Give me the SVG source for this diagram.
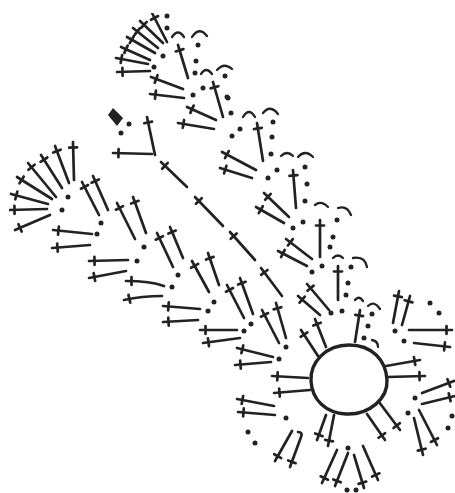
<svg xmlns="http://www.w3.org/2000/svg" width="455" height="493" viewBox="0 0 455 493">
<style>
.s{fill:none;stroke:#222;stroke-width:2.7;stroke-linecap:round;marker-start:url(#x)}
.a{fill:none;stroke:#222;stroke-width:2.3;stroke-linecap:round}
.d circle{fill:#222;r:2.5px}
</style>
<defs>
<marker id="x" markerUnits="userSpaceOnUse" orient="auto" refX="0" refY="5" markerWidth="10" markerHeight="10" overflow="visible"><path d="M5.5 1V9" stroke="#222" stroke-width="2.7" stroke-linecap="round" fill="none"/></marker>
<filter id="soft" x="0" y="0" width="100%" height="100%"><feGaussianBlur stdDeviation="0.4"/></filter>
</defs>
<rect width="455" height="493" fill="#fff"/>
<g filter="url(#soft)">
<g id="stitches">
<path class="s" d="M117 72L150 71"/><path class="s" d="M116 58L148 64"/><path class="s" d="M121 47L150 60"/><path class="s" d="M127 37L155 53"/><path class="s" d="M133 28L158 48"/><path class="s" d="M140 21L163 43"/><path class="s" d="M152 13L167 42"/>
<path class="s" d="M178 45L188 78"/><path class="s" d="M151 77L183 89"/><path class="s" d="M150 94L184 98"/><path class="s" d="M213 82L223 117"/><path class="s" d="M187 107L216 120"/><path class="s" d="M178 123L214 129"/>
<path class="s" d="M147 117L155 155"/><path class="s" d="M113 153L152 154"/><path class="s" d="M161 162L187 187"/><path class="s" d="M195 197L223 226"/><path class="s" d="M230 232L255 260"/><path class="s" d="M261 268L282 296"/>
<path class="s" d="M9 210L47 209"/><path class="s" d="M11 194L48 204"/><path class="s" d="M17 177L52 199"/><path class="s" d="M28 163L56 197"/><path class="s" d="M41 155L62 188"/><path class="s" d="M55 146L69 183"/><path class="s" d="M73 142L74 180"/><path class="s" d="M15 230L50 215"/>
<path class="s" d="M82 182L99 215"/><path class="s" d="M93 176L108 210"/><path class="s" d="M117 203L135 239"/><path class="s" d="M133 197L146 233"/><path class="s" d="M53 230L92 234"/><path class="s" d="M52 248L90 245"/><path class="s" d="M157 233L173 267"/><path class="s" d="M170 227L183 258"/>
<path class="s" d="M89 261L128 260"/><path class="s" d="M89 278L126 271"/><path class="s" d="M126 281Q150 281 164 286"/><path class="s" d="M124 300Q142 296 162 296"/>
<path class="s" d="M192 261L209 292"/><path class="s" d="M208 253L219 285"/><path class="s" d="M163 306L200 309"/><path class="s" d="M163 322L198 320"/><path class="s" d="M200 330L237 330"/><path class="s" d="M203 343L240 338"/>
<path class="s" d="M227 285L244 318"/><path class="s" d="M240 278L253 314"/><path class="s" d="M262 310L279 343"/><path class="s" d="M276 303L286 338"/>
<path class="s" d="M237 348L273 357"/><path class="s" d="M235 365L271 362"/><path class="s" d="M272 376L308 378"/><path class="s" d="M274 393L310 390"/><path class="s" d="M237 399L274 406"/><path class="s" d="M238 412L275 415"/>
<path class="s" d="M275 461L292 431"/><path class="s" d="M290 467L301 437Q303 432 298 432"/><path class="s" d="M317 440L326 415"/><path class="s" d="M328 446L334 415"/><path class="s" d="M322 483L337 450"/><path class="s" d="M335 486L348 453"/><path class="s" d="M364 488L354 455"/><path class="s" d="M378 480L363 446"/>
<path class="s" d="M385 440L367 414"/><path class="s" d="M400 430L379 402"/><path class="s" d="M423 455L414 418"/><path class="s" d="M437 445L419 410"/><path class="s" d="M455 396L422 404"/><path class="s" d="M454 381L422 393"/>
<path class="s" d="M425 376L387 377"/><path class="s" d="M420 360L386 366"/><path class="s" d="M450 347L414 343"/><path class="s" d="M452 330L409 330"/><path class="s" d="M399 291L393 323"/><path class="s" d="M410 296L402 325"/>
<path class="s" d="M301 330L318 356"/><path class="s" d="M315 319L326 347"/><path class="s" d="M360 310L355 342"/><path class="s" d="M338 266L338 300"/><path class="s" d="M307 284L329 310"/><path class="s" d="M298 296L320 315"/>
<path class="s" d="M278 251L307 266"/><path class="s" d="M286 239L312 259"/><path class="s" d="M320 220L320 257"/>
<path class="s" d="M257 123L263 161"/><path class="s" d="M222 152L256 170"/><path class="s" d="M220 168L252 178"/><path class="s" d="M293 170L296 208"/><path class="s" d="M264 193L289 217"/><path class="s" d="M256 207L284 223"/>
</g>
<g id="arcs">
<path class="a" d="M172 37Q178 28 184 37"/><path class="a" d="M192 37Q199 26 207 36"/><path class="a" d="M201 74Q206 66 212 74"/><path class="a" d="M217 70Q224 62 232 69"/>
<path class="a" d="M243 117Q249 107 255 117"/><path class="a" d="M263 113Q270 104 278 114"/><path class="a" d="M281 156Q287 150 293 156"/><path class="a" d="M298 157Q305 149 313 157"/><path class="a" d="M315 205Q321 200 328 207"/><path class="a" d="M338 208Q347 205 351 215"/>
<path class="a" d="M333 258Q338 253 343 258"/><path class="a" d="M353 258Q365 256 367 267"/><path class="a" d="M355 300Q359 295 363 301"/><path class="a" d="M368 306Q374 300 380 309"/><path class="a" d="M372 340Q378 341 378 347"/>
</g>
<g id="dots" class="d">
<circle cx="167" cy="16"/><circle cx="167" cy="28"/><circle cx="163" cy="56"/><circle cx="154" cy="67"/><circle cx="198" cy="45"/><circle cx="196" cy="61"/><circle cx="195" cy="73"/><circle cx="193" cy="95"/><circle cx="203" cy="88"/><circle cx="225" cy="76"/><circle cx="227" cy="97"/>
<circle cx="129" cy="124"/><circle cx="121" cy="133"/><circle cx="68" cy="197"/><circle cx="62" cy="210"/><circle cx="101" cy="223"/><circle cx="97" cy="234"/><circle cx="144" cy="247"/><circle cx="137" cy="261"/><circle cx="178" cy="275"/><circle cx="172" cy="287"/><circle cx="214" cy="302"/><circle cx="208" cy="311"/><circle cx="251" cy="324"/><circle cx="244" cy="331"/><circle cx="286" cy="347"/><circle cx="279" cy="359"/>
<circle cx="286" cy="418"/><circle cx="248" cy="432"/><circle cx="255" cy="443"/><circle cx="348" cy="448"/><circle cx="347" cy="490"/><circle cx="356" cy="490"/><circle cx="408" cy="413"/><circle cx="415" cy="398"/><circle cx="452" cy="416"/><circle cx="448" cy="428"/><circle cx="395" cy="331"/><circle cx="404" cy="341"/><circle cx="430" cy="303"/><circle cx="439" cy="313"/>
<circle cx="331" cy="313"/><circle cx="342" cy="311"/><circle cx="346" cy="295"/><circle cx="348" cy="283"/><circle cx="351" cy="267"/><circle cx="322" cy="266"/><circle cx="312" cy="272"/><circle cx="330" cy="247"/><circle cx="364" cy="338"/><circle cx="368" cy="326"/><circle cx="372" cy="314"/>
<circle cx="232" cy="136"/><circle cx="240" cy="129"/><circle cx="231" cy="113"/><circle cx="228" cy="98"/><circle cx="273" cy="122"/><circle cx="272" cy="137"/><circle cx="271" cy="154"/><circle cx="277" cy="170"/><circle cx="268" cy="178"/><circle cx="305" cy="167"/><circle cx="307" cy="184"/><circle cx="305" cy="201"/><circle cx="303" cy="222"/><circle cx="293" cy="228"/><circle cx="337" cy="220"/><circle cx="333" cy="237"/>
</g>
<polygon id="start" points="108,115 113,108 123,118 117,126" fill="#222"/>
<path id="ring" d="M311 381C310 362 326 345 349 345C372 345 386 360 387 380C388 398 370 415 346 414C326 413 312 400 311 381Z" fill="#fff" stroke="#222" stroke-width="3.4"/>
</g>
</svg>
